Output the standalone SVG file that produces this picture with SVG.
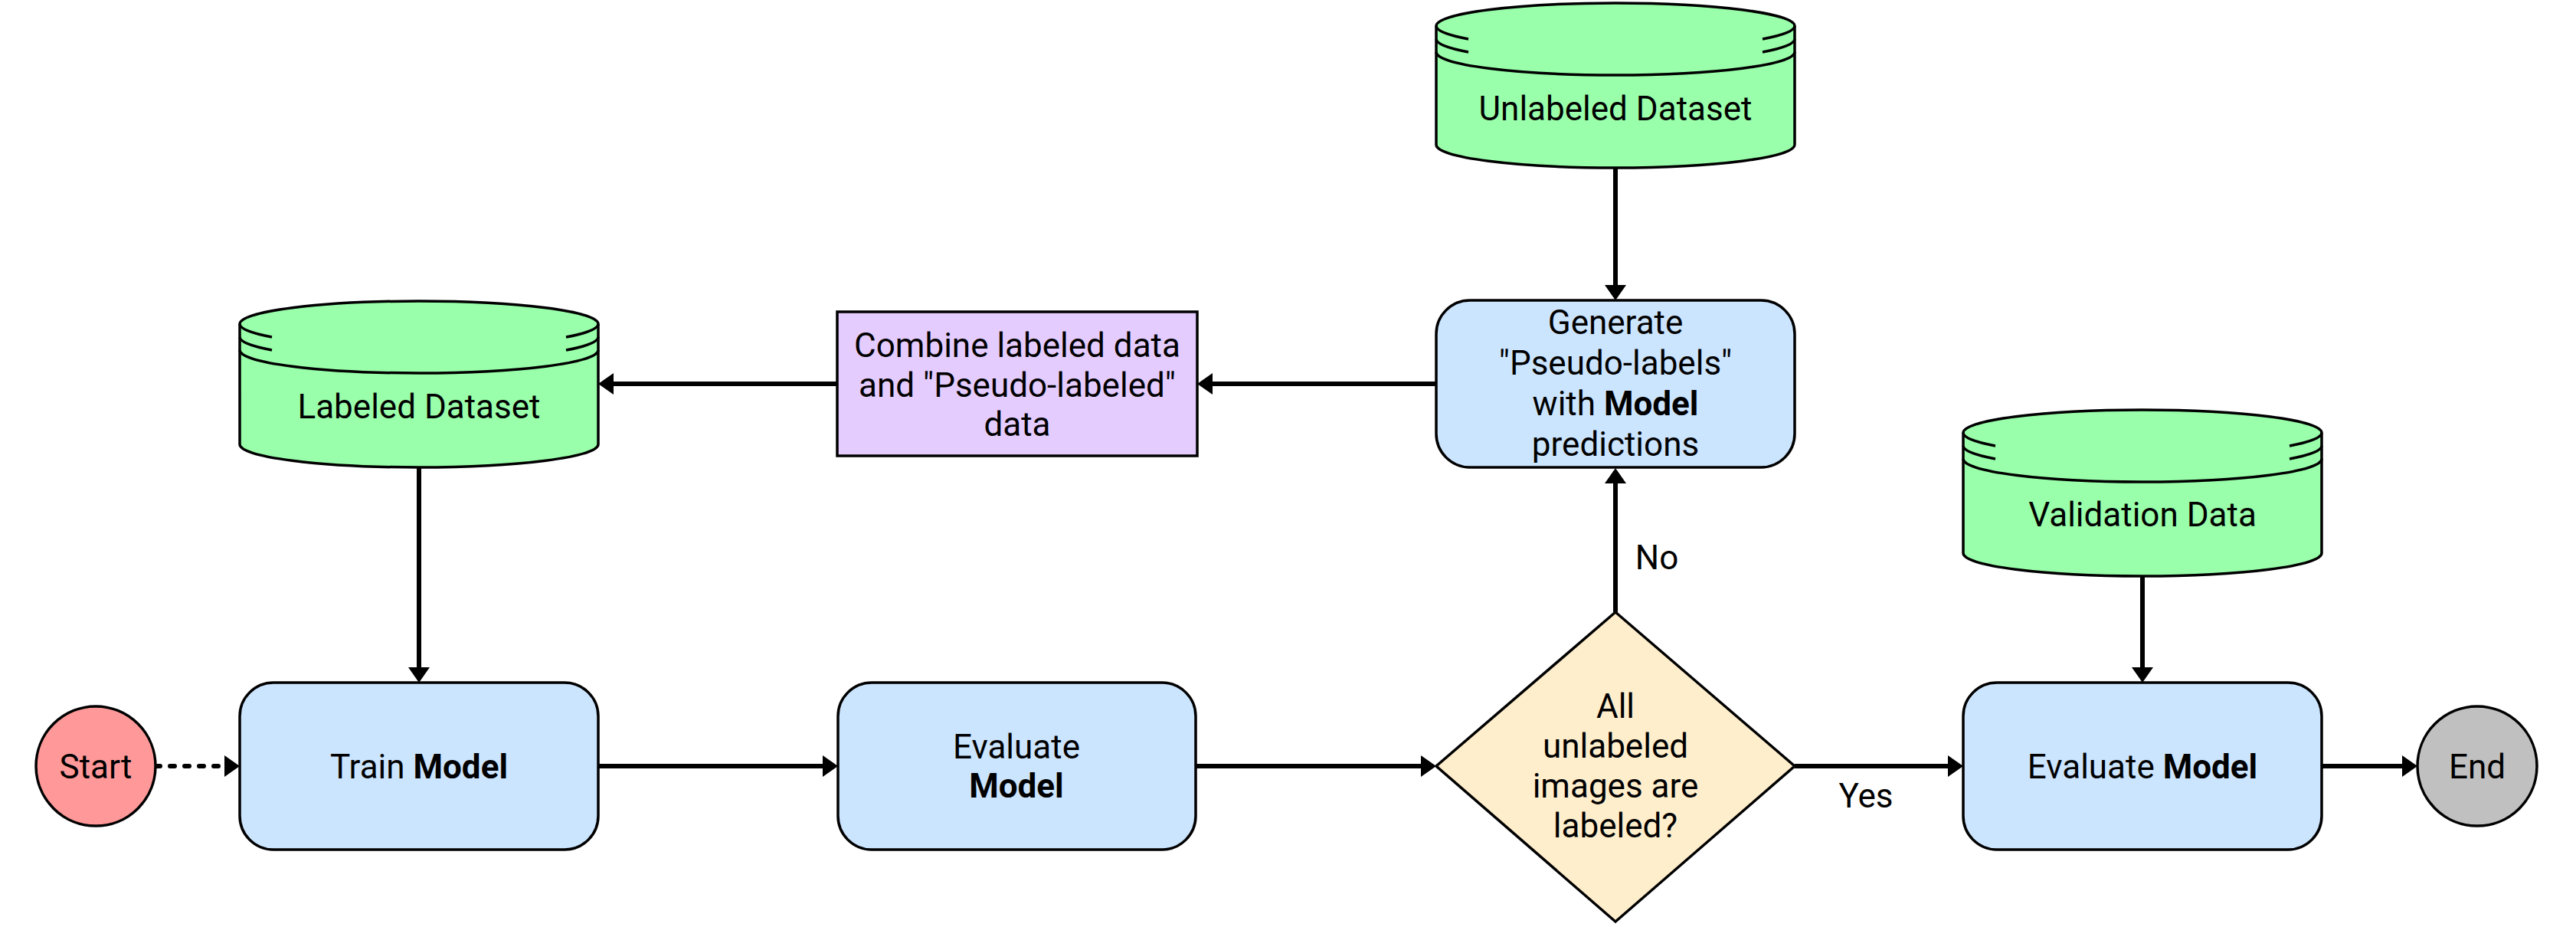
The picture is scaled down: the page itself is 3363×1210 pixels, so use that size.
<svg xmlns="http://www.w3.org/2000/svg" width="3363" height="1210" viewBox="0 0 3363 1210">
<defs>
<style>
.t{font-family:Roboto,"Liberation Sans",sans-serif;font-size:44px;fill:#000;text-anchor:middle}
.b{font-weight:bold}
.proc{fill:#CCE5FF;stroke:#000;stroke-width:3.5}
.cyl{fill:#99FFAA;stroke:#000;stroke-width:3.5}
.ring{fill:none;stroke:#000;stroke-width:3.5}
.edge{fill:none;stroke:#000;stroke-width:6}
</style>
<marker id="arr" viewBox="0 0 20 28" refX="0" refY="14" markerWidth="20" markerHeight="28" markerUnits="userSpaceOnUse" orient="auto">
<path d="M0,0 L20,14 L0,28 Z" fill="#000"/>
</marker>
</defs>
<rect width="3363" height="1210" fill="#fff"/>

<g id="connectors">
<path class="edge" d="M203,1000 H293" stroke-dasharray="6 13" stroke-linecap="round" marker-end="url(#arr)"/>
<path class="edge" d="M781,1000 H1074" marker-end="url(#arr)"/>
<path class="edge" d="M1561,1000 H1855" marker-end="url(#arr)"/>
<path class="edge" d="M2343,1000 H2543" marker-end="url(#arr)"/>
<path class="edge" d="M3031,1000 H3136" marker-end="url(#arr)"/>
<path class="edge" d="M2109,799 V631" marker-end="url(#arr)"/>
<path class="edge" d="M2109,218 V372" marker-end="url(#arr)"/>
<path class="edge" d="M1875,501 H1583" marker-end="url(#arr)"/>
<path class="edge" d="M1093,501 H801" marker-end="url(#arr)"/>
<path class="edge" d="M547,610 V871" marker-end="url(#arr)"/>
<path class="edge" d="M2797,752 V871" marker-end="url(#arr)"/>
<text class="t" x="2163" y="743">No</text>
<text class="t" x="2436" y="1054">Yes</text>
</g>

<g id="start">
<circle cx="125" cy="1000" r="78" fill="#FF9999" stroke="#000" stroke-width="3.5"/>
<text class="t" x="125" y="1016">Start</text>
</g>

<g id="train">
<rect class="proc" x="313" y="891" width="468" height="218" rx="44" ry="44"/>
<text class="t" x="547" y="1016">Train <tspan class="b">Model</tspan></text>
</g>

<g id="evaluate1">
<rect class="proc" x="1094" y="891" width="467" height="218" rx="44" ry="44"/>
<text class="t" x="1327" y="990">Evaluate</text>
<text class="t b" x="1327" y="1041">Model</text>
</g>

<g id="decision">
<polygon points="2109,799 2343,1000 2109,1203 1875,1000" fill="#FFEECC" stroke="#000" stroke-width="3.5"/>
<text class="t" x="2109" y="937">All</text>
<text class="t" x="2109" y="989">unlabeled</text>
<text class="t" x="2109" y="1041">images are</text>
<text class="t" x="2109" y="1093">labeled?</text>
</g>

<g id="evaluate2">
<rect class="proc" x="2563" y="891" width="468" height="218" rx="44" ry="44"/>
<text class="t" x="2797" y="1016">Evaluate <tspan class="b">Model</tspan></text>
</g>

<g id="end">
<circle cx="3234" cy="1000" r="78" fill="#C0C0C0" stroke="#000" stroke-width="3.5"/>
<text class="t" x="3234" y="1016">End</text>
</g>

<g id="generate">
<rect class="proc" x="1875" y="392" width="468" height="218" rx="44" ry="44"/>
<text class="t" x="2109" y="436">Generate</text>
<text class="t" x="2109" y="489">"Pseudo-labels"</text>
<text class="t" x="2109" y="542">with <tspan class="b">Model</tspan></text>
<text class="t" x="2109" y="595">predictions</text>
</g>

<g id="combine">
<rect x="1093" y="407" width="470" height="188" fill="#E5CCFF" stroke="#000" stroke-width="3.5"/>
<text class="t" x="1328" y="466">Combine labeled data</text>
<text class="t" x="1328" y="518">and "Pseudo-labeled"</text>
<text class="t" x="1328" y="569">data</text>
</g>

<g id="labeled-dataset">
<path class="cyl" d="M313,423 A234,30 0 0 1 781,423 L781,580 A234,30 0 0 1 313,580 Z"/>
<path class="ring" d="M313,423 A234,30 0 0 0 355,440 M781,423 A234,30 0 0 1 739,440 M313,440 A234,30 0 0 0 355,457 M781,440 A234,30 0 0 1 739,457 M313,457 A234,30 0 0 0 781,457"/>
<text class="t" x="547" y="546">Labeled Dataset</text>
</g>

<g id="unlabeled-dataset">
<path class="cyl" d="M1875,34 A234,30 0 0 1 2343,34 L2343,189 A234,30 0 0 1 1875,189 Z"/>
<path class="ring" d="M1875,34 A234,30 0 0 0 1917,51 M2343,34 A234,30 0 0 1 2301,51 M1875,51 A234,30 0 0 0 1917,68 M2343,51 A234,30 0 0 1 2301,68 M1875,68 A234,30 0 0 0 2343,68"/>
<text class="t" x="2109" y="157">Unlabeled Dataset</text>
</g>

<g id="validation-data">
<path class="cyl" d="M2563,565 A234,30 0 0 1 3031,565 L3031,722 A234,30 0 0 1 2563,722 Z"/>
<path class="ring" d="M2563,565 A234,30 0 0 0 2605,582 M3031,565 A234,30 0 0 1 2989,582 M2563,582 A234,30 0 0 0 2605,599 M3031,582 A234,30 0 0 1 2989,599 M2563,599 A234,30 0 0 0 3031,599"/>
<text class="t" x="2797" y="687">Validation Data</text>
</g>
</svg>
